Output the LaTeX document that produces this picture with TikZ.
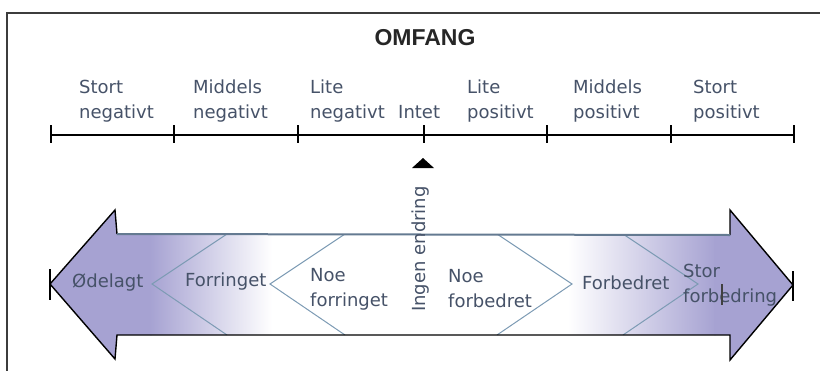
\documentclass[tikz,border=0pt]{standalone}
\usepackage{fontspec}
\setmainfont{DejaVu Sans}
\newfontfamily\titlefont{Liberation Sans}
\definecolor{lav}{RGB}{166,162,210}
\definecolor{txt}{RGB}{70,82,104}
\definecolor{chev}{RGB}{125,155,180}
\definecolor{topline}{RGB}{100,122,145}
\definecolor{framec}{RGB}{60,60,60}
\begin{document}
\begin{tikzpicture}[x=1pt,y=-1pt,
  lab/.style={anchor=base west, inner sep=0pt, text=txt, font=\fontsize{18}{25}\selectfont, align=left},
  tickline/.style={line width=1.5pt, black},
  chevline/.style={line width=1pt, chev},
  outline/.style={line width=1.4pt, black, line join=miter}]
\useasboundingbox (0,0) rectangle (820,370);
\clip (0,0) rectangle (820,370);
% frame
\draw[framec, line width=1.3pt] (7,13) rectangle (830,380);
% title
\node[inner sep=0pt, anchor=base, font=\titlefont\bfseries\fontsize{23}{26}\selectfont, text=black!85] (title) at (425,45) {OMFANG};
% axis
\foreach \n/\x in {t0/51,t1/174,t2/298,t3/424,t4/547,t5/671,t6/794}{
  \coordinate (\n) at (\x,135);
  \draw[tickline] (\x,125) -- (\x,143);
}
\draw[tickline] (t0) -- (t6);
% scale labels (anchor = baseline of the last line)
\node[lab] (sn) at (79,118) {Stort\\negativt};
\node[lab] (mn) at (193,118) {Middels\\negativt};
\node[lab] (ln) at (310,118) {Lite\\negativt};
\node[lab] (in) at (398,118) {Intet};
\node[lab] (lp) at (467,118) {Lite\\positivt};
\node[lab] (mp) at (573,118) {Middels\\positivt};
\node[lab] (sp) at (693,118) {Stort\\positivt};
% small triangle
\fill[black] (412,168) -- (434,168) -- (423,158) -- cycle;
% double arrow fill
\begin{scope}
  \clip (50,284) -- (115,210) -- (117,234) -- (730,235) -- (730,210) -- (793,285)
        -- (730,360) -- (730,335) -- (117,335) -- (115,359) -- cycle;
  \fill[lav] (40,200) rectangle (152,370);
  \shade[left color=lav, right color=white] (150,200) rectangle (272,370);
  \shade[left color=white, right color=lav] (568,200) rectangle (716,370);
  \fill[lav] (714,200) rectangle (800,370);
  % chevrons
  \draw[chevline] (227,234) -- (152,284) -- (227,335);
  \draw[chevline] (345,234) -- (270,284) -- (345,335);
  \draw[chevline] (497,234) -- (572,284) -- (497,335);
  \draw[chevline] (623,234) -- (698,284) -- (623,335);
\end{scope}
% outline
\draw[outline] (117,234) -- (115,210) -- (50,284) -- (115,359) -- (117,335) -- (730,335)
      -- (730,360) -- (793,285) -- (730,210) -- (730,235);
\draw[topline, line width=2pt] (117,234) -- (730,235);
% tip ticks
\draw[tickline] (50,269) -- (50,300);
\draw[tickline] (793,271) -- (793,301);
% arrow labels
\node[lab] (od) at (72,287) {Ødelagt};
\node[lab] (fo) at (185,286) {Forringet};
\node[lab] (nf) at (310,306) {Noe\\forringet};
\node[inner sep=0pt, text=txt, font=\fontsize{18}{25}\selectfont, rotate=90] (ie) at (421,249) {Ingen endring};
\node[lab] (nb) at (448,307) {Noe\\forbedret};
\node[lab] (fb) at (582,289) {Forbedret};
\node[lab] (sf) at (683,302) {Stor\\forbedring};
\draw[line width=1.2pt, black!75] (722,284) -- (722,305);
\end{tikzpicture}
\end{document}
